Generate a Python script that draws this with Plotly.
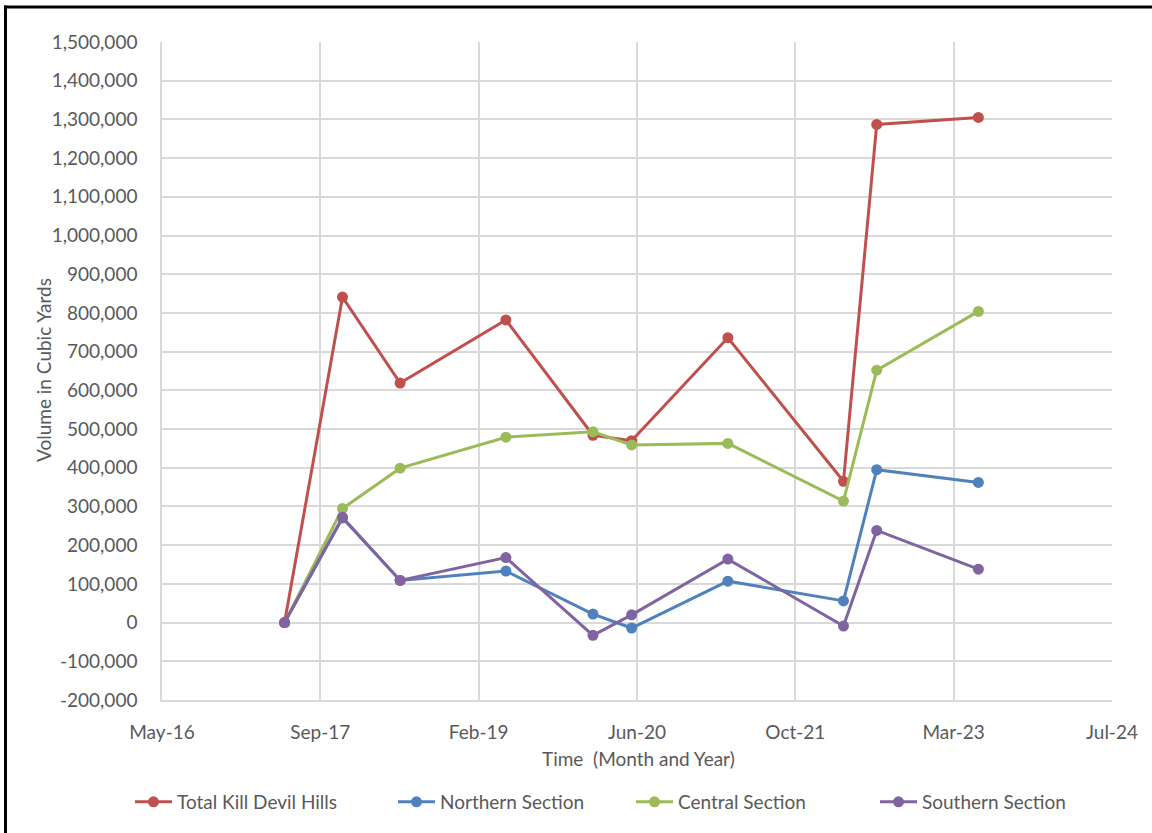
import plotly.graph_objects as go
import pandas as pd

# ---- data ----
dates = ["2017-06-01", "2017-12-01", "2018-06-01", "2019-05-01", "2020-01-31",
         "2020-06-01", "2021-04-01", "2022-04-01", "2022-07-15", "2023-06-01"]
total_kdh = [0, 841000, 619000, 782000, 484000, 470000, 736000, 365000, 1287000, 1305000]
northern = [0, 270000, 109000, 133000, 22000, -14000, 107000, 56000, 395000, 362000]
central = [0, 295000, 399000, 479000, 493000, 459000, 463000, 314000, 652000, 804000]
southern = [0, 272000, 109000, 168000, -33000, 20000, 164000, -9000, 238000, 138000]

series_names = ["Total Kill Devil Hills", "Northern Section", "Central Section", "Southern Section"]
series_colors = ["#C0504D", "#4F81BD", "#9BBB59", "#8064A2"]

# Excel date-axis: min serial 42500, major unit 500 days
x_tick_serials = [42500, 43000, 43500, 44000, 44500, 45000, 45500]
x_tick_labels = ["May-16", "Sep-17", "Feb-19", "Jun-20", "Oct-21", "Mar-23", "Jul-24"]
y_tick_vals = list(range(-200000, 1500001, 100000))
y_tick_labels = [f"{v:,}" for v in y_tick_vals]  # hyphen minus like Excel

excel_origin = pd.Timestamp("1899-12-30")
x_tick_dates = [(excel_origin + pd.Timedelta(days=s)).strftime("%Y-%m-%d") for s in x_tick_serials]

FONT = "Lato"
FS = 19
TXT = "#595959"
GRID = "#D9D9D9"

W, H = 1152, 833
L, R, T, B = 162, 1112, 42, 700

fig = go.Figure()
all_series = [total_kdh, northern, central, southern]
legend_ids = ["legend", "legend2", "legend3", "legend4"]
for name, vals, col, lid in zip(series_names, all_series, series_colors, legend_ids):
    fig.add_trace(go.Scatter(
        x=dates, y=vals, name=name, mode="lines+markers",
        line=dict(color=col, width=3),
        marker=dict(color=col, size=11),
        legend=lid,
    ))

def px_x(p):
    return (p - L) / (R - L)

def px_y(p):
    return (B - p) / (B - T)

legend_line_starts = [135, 398, 636, 880]
legend_common = dict(orientation="h", yanchor="middle", xanchor="left",
                     font=dict(family=FONT, size=FS, color=TXT),
                     bgcolor="rgba(0,0,0,0)", borderwidth=0, itemwidth=37)
layout_legends = {}
for lid, xs in zip(legend_ids, legend_line_starts):
    layout_legends[lid] = dict(x=px_x(xs - 5), y=px_y(802), **legend_common)

fig.update_layout(
    width=W, height=H,
    margin=dict(l=L, r=W - R, t=T, b=H - B, autoexpand=False),
    paper_bgcolor="white", plot_bgcolor="white",
    font=dict(family=FONT, size=FS, color=TXT),
    showlegend=True,
    **layout_legends,
)

fig.update_xaxes(
    type="date",
    range=[x_tick_dates[0], x_tick_dates[-1]],
    tickmode="array", tickvals=x_tick_dates, ticktext=x_tick_labels,
    showgrid=True, gridcolor=GRID, gridwidth=1.5,
    showline=True, linecolor=GRID, linewidth=1.5,
    ticks="", ticklabelstandoff=14,
    tickfont=dict(family=FONT, size=FS, color=TXT),
    zeroline=False,
)
fig.update_yaxes(
    range=[-200000, 1500000],
    tickmode="array", tickvals=y_tick_vals, ticktext=y_tick_labels,
    showgrid=True, gridcolor=GRID, gridwidth=1.5,
    showline=True, linecolor=GRID, linewidth=1.5,
    zeroline=True, zerolinecolor=GRID, zerolinewidth=1.5,
    ticks="", ticklabelstandoff=19,
    tickfont=dict(family=FONT, size=FS, color=TXT),
)

# axis titles
fig.add_annotation(text="Volume in Cubic Yards", xref="paper", yref="paper",
                   x=px_x(43), y=px_y(370), textangle=-90, showarrow=False,
                   xanchor="center", yanchor="middle",
                   font=dict(family=FONT, size=FS, color=TXT))
fig.add_annotation(text="Time  (Month and Year)", xref="paper", yref="paper",
                   x=px_x(638), y=px_y(758), showarrow=False,
                   xanchor="center", yanchor="middle",
                   font=dict(family=FONT, size=FS, color=TXT))

# outer frame (top and left edges visible)
fig.add_shape(type="line", xref="paper", yref="paper",
              x0=px_x(4), x1=px_x(1152), y0=px_y(7), y1=px_y(7),
              line=dict(color="black", width=3))
fig.add_shape(type="line", xref="paper", yref="paper",
              x0=px_x(5.5), x1=px_x(5.5), y0=px_y(5.5), y1=px_y(833),
              line=dict(color="black", width=3))

fig.write_html("out.html")
